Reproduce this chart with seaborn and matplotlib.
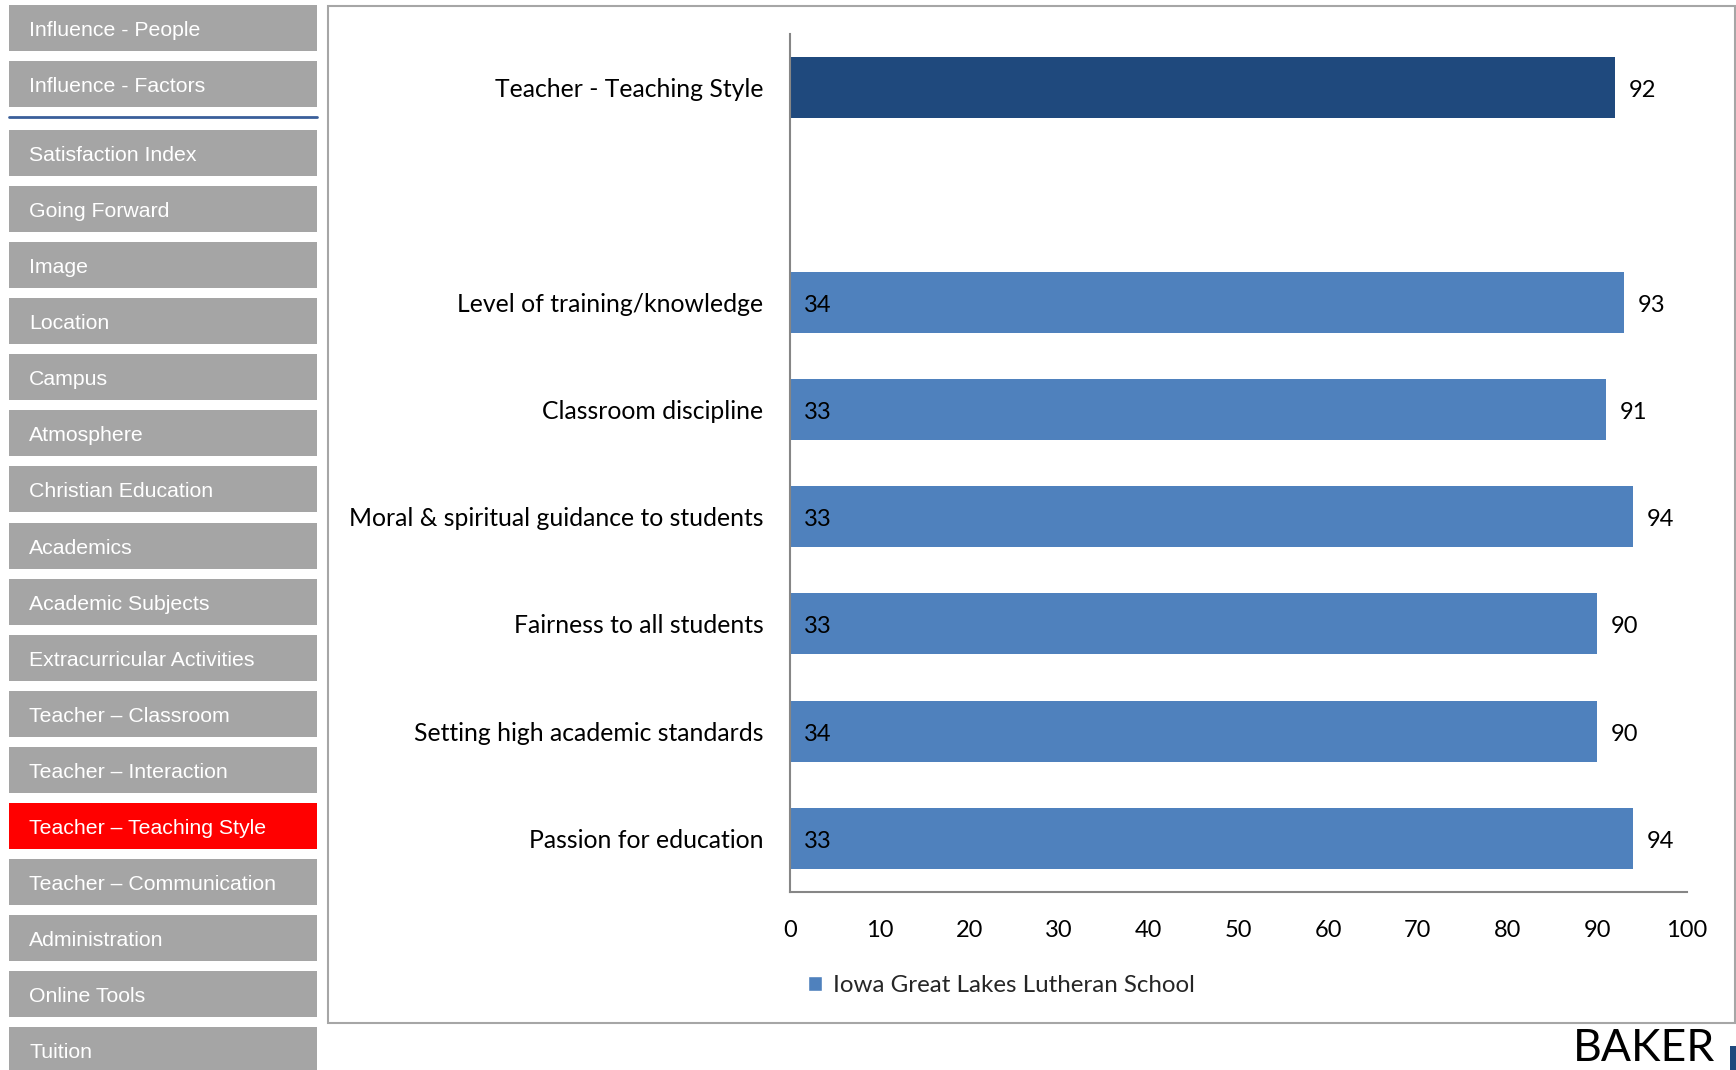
import numpy as np
import pandas as pd
import matplotlib
matplotlib.use("Agg")
import matplotlib.pyplot as plt
from matplotlib.patches import Rectangle, Patch
import seaborn as sns

# chart data
categories = ["Teacher - Teaching Style", " ", "Level of training/knowledge",
              "Classroom discipline", "Moral & spiritual guidance to students",
              "Fairness to all students", "Setting high academic standards",
              "Passion for education"]
scores = [92, np.nan, 93, 91, 94, 90, 90, 94]
counts = [None, None, 34, 33, 33, 33, 34, 33]
x_ticks = list(range(0, 101, 10))
series_name = "Iowa Great Lakes Lutheran School"

# side navigation
nav_top = ["Influence - People", "Influence - Factors"]
nav_items = ["Satisfaction Index", "Going Forward", "Image", "Location", "Campus",
             "Atmosphere", "Christian Education", "Academics", "Academic Subjects",
             "Extracurricular Activities", "Teacher \u2013 Classroom",
             "Teacher \u2013 Interaction", "Teacher \u2013 Teaching Style",
             "Teacher \u2013 Communication", "Administration", "Online Tools", "Tuition"]
active_item = "Teacher \u2013 Teaching Style"

light_blue = "#4F81BD"
dark_blue = "#1F497D"
grey_btn = "#A5A5A5"

sns.set_theme(style="white")
plt.rcParams["font.family"] = ["Lato", "DejaVu Sans"]

W, H = 1736, 1070
fig = plt.figure(figsize=(W / 100, H / 100), dpi=100)

# background layer in pixel coordinates
bg = fig.add_axes([0, 0, 1, 1])
bg.set_xlim(0, W)
bg.set_ylim(H, 0)
bg.axis("off")

def nav_button(y, label, active=False):
    bg.add_patch(Rectangle((9, y), 308, 46, facecolor="#FF0000" if active else grey_btn,
                           edgecolor="none"))
    bg.text(29, y + 25.5, label, color="white", fontsize=15.3, va="center", ha="left",
            family=["Liberation Sans", "DejaVu Sans"])

for i, lab in enumerate(nav_top):
    nav_button(5 + i * 56, lab)
bg.plot([9, 317], [117, 117], color="#3A5F9A", lw=2)
for i, lab in enumerate(nav_items):
    nav_button(130 + i * 56.08, lab, active=(lab == active_item))

# chart panel frame
bg.add_patch(Rectangle((328, 6), 1407, 1017, facecolor="none", edgecolor="#A6A6A6",
                       lw=1.5, clip_on=False))

# logo
bg.text(1573, 1069, "BAKER", fontsize=32, color="black", ha="left", va="bottom")
bg.add_patch(Rectangle((1730, 1046), 8, 30, facecolor=dark_blue, edgecolor="none",
                       clip_on=False))

# bar chart
ax = fig.add_axes([790 / W, 1 - 892 / H, (1687 - 790) / W, (892 - 34) / H])
ax.patch.set_alpha(0)
df = pd.DataFrame({"category": categories, "score": scores}).dropna()
palette = {c: (dark_blue if i == 0 else light_blue) for i, c in enumerate(categories)}
sns.barplot(data=df, x="score", y="category", order=categories, hue="category",
            palette=palette, legend=False, width=0.57, linewidth=0, saturation=1,
            orient="h", ax=ax)

ax.set_xlim(0, 100)
ax.set_ylim(7.5, -0.5)
ax.set_xticks(x_ticks)
ax.set_xlabel("")
ax.set_ylabel("")
ax.tick_params(axis="y", length=0, pad=19, labelsize=17.8, labelcolor="black")
ax.tick_params(axis="x", length=0, pad=20, labelsize=17, labelcolor="black")
for side in ["top", "right"]:
    ax.spines[side].set_visible(False)
for side in ["left", "bottom"]:
    ax.spines[side].set_color("#868686")
    ax.spines[side].set_linewidth(1.5)

for i, (v, n) in enumerate(zip(scores, counts)):
    if not np.isnan(v):
        ax.annotate(f"{v:.0f}", xy=(v, i), xytext=(10, -2.2), textcoords="offset points",
                    va="center", ha="left", fontsize=17, color="black")
    if n is not None:
        ax.annotate(str(n), xy=(0, i), xytext=(10, -2.2), textcoords="offset points",
                    va="center", ha="left", fontsize=17, color="black")

ax.legend(handles=[Patch(facecolor=light_blue, label=series_name)],
          loc="center left", bbox_to_anchor=(808 / W, 1 - 986 / H),
          bbox_transform=fig.transFigure, frameon=False, fontsize=17.4,
          handlelength=0.58, handleheight=0.58, handletextpad=0.45,
          borderpad=0, borderaxespad=0)

fig.savefig("out.png", dpi=100)
